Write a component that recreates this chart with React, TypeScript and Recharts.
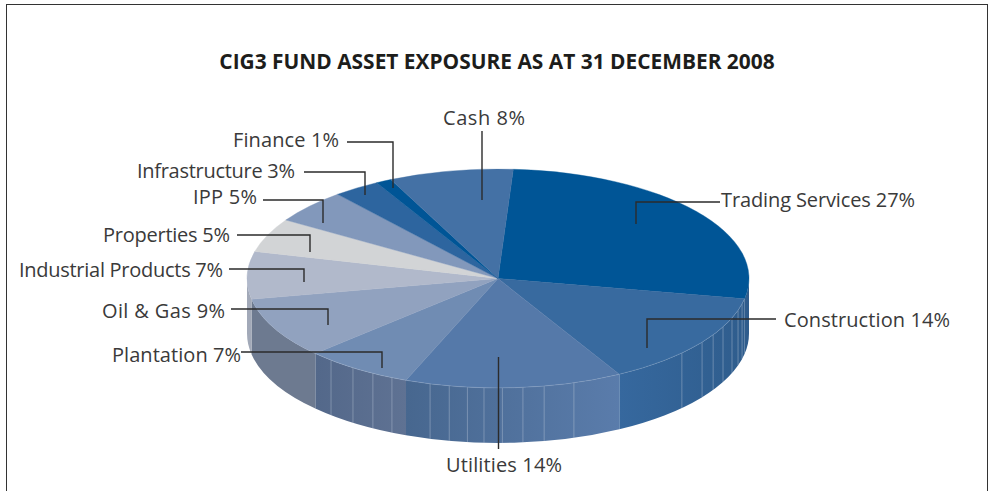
import { PieChart, Pie } from 'recharts';

const sliceNames = ['Trading Services', 'Construction', 'Utilities', 'Plantation', 'Oil & Gas', 'Industrial Products', 'Properties', 'IPP', 'Infrastructure', 'Finance', 'Cash'];
const sliceValues = [27, 14, 14, 7, 9, 7, 5, 5, 3, 1, 8];
const sliceColors = ['#005596', '#386a9f', '#5579a9', '#708cb3', '#91a2bf', '#b1b9cb', '#d2d4d6', '#8298bb', '#2d659f', '#005596', '#4471a5'];

// wall shading, left colour then right colour
const wallColors = [
  ['#2f5c8c', '#2f5c8c'],
  ['#36689e', '#2f5d8d'],
  ['#47678f', '#5a7cab'],
  ['#53688a', '#5f7293'],
  ['#6d7a90', '#6d7a90'],
  ['#a2a9b8', '#a2a9b8'],
];

// angles of the thin light facet lines on the side wall
const wallRibs: Record<string, number[]> = {
  Construction: [-13.5, -17, -21.2, -26.3, -31, -35.6, -42.9],
  Utilities: [-72.4, -79.4, -84.3, -89, -93.2, -97, -101.2, -105.7],
  Plantation: [-115, -119.9, -125.3, -131.7],
};

// text start, baseline, text width, leader line points
const labelLayouts = [
  { x: 721, y: 207, w: 194, line: '720,202 636,202 636,224' },
  { x: 784, y: 327, w: 166, line: '776,319 647,319 647,348' },
  { x: 446, y: 472, w: 116, line: '498.5,357 498.5,449' },
  { x: 112, y: 362, w: 129, line: '241,352 382,352 382,368' },
  { x: 102, y: 318, w: 123, line: '231,309 328,309 328,325' },
  { x: 19, y: 277, w: 204, line: '229,269 304,269 304,282' },
  { x: 103, y: 242, w: 127, line: '237,235 310,235 310,252' },
  { x: 193, y: 204, w: 64, line: '263,200 323,200 323,223' },
  { x: 137, y: 178, w: 158, line: '304,172 365,172 365,195' },
  { x: 233, y: 147, w: 106, line: '347,142 393,142 393,188' },
  { x: 443, y: 125, w: 82, line: '482,131 482,200' },
];

const pieData = sliceNames.map((name, i) => ({ name, value: sliceValues[i], fill: sliceColors[i] }));

const RX = 251;
const SQUASH = 0.436;
const DEPTH = 55;
const FONT = '"Open Sans", sans-serif';

const rad = (a: number) => (a * Math.PI) / 180;

const Slice3D = (props: any) => {
  const { cx, cy, startAngle, endAngle, fill, outerRadius } = props;
  const name = props.payload?.name ?? props.name;
  const i = sliceNames.indexOf(name);
  const rx = outerRadius;
  const ry = outerRadius * SQUASH;
  const px = (a: number) => cx + rx * Math.cos(rad(a));
  const py = (a: number) => cy - ry * Math.sin(rad(a));
  const large = startAngle - endAngle > 180 ? 1 : 0;
  const top = `M${cx},${cy} L${px(startAngle)},${py(startAngle)} A${rx},${ry} 0 ${large} 1 ${px(endAngle)},${py(endAngle)} Z`;

  const a = Math.min(startAngle, 0);
  const b = Math.max(endAngle, -180);
  const hasWall = a > b;
  const wall = `M${px(a)},${py(a)} A${rx},${ry} 0 0 1 ${px(b)},${py(b)} L${px(b)},${py(b) + DEPTH} A${rx},${ry} 0 0 0 ${px(a)},${py(a) + DEPTH} Z`;
  const rim = `M${px(a)},${py(a)} A${rx},${ry} 0 0 1 ${px(b)},${py(b)}`;
  const colors = wallColors[i];
  const ribs = wallRibs[name] || [];

  return (
    <g>
      {hasWall && colors && (
        <g>
          <defs>
            <linearGradient id={`wall-${i}`} x1="0" x2="1" y1="0" y2="0">
              <stop offset="0" stopColor={colors[0]} />
              <stop offset="1" stopColor={colors[1]} />
            </linearGradient>
          </defs>
          <path d={wall} fill={`url(#wall-${i})`} />
          {ribs.map((r) => (
            <line key={r} x1={px(r)} x2={px(r)} y1={py(r)} y2={py(r) + DEPTH} stroke="#c4cfe0" strokeWidth={0.7} strokeOpacity={0.55} />
          ))}
        </g>
      )}
      <path d={top} fill={fill} stroke={fill} strokeWidth={0.4} />
      {hasWall && ribs.length > 0 && <path d={rim} fill="none" stroke="#c9d4e4" strokeWidth={0.6} strokeOpacity={0.35} />}
    </g>
  );
};

const renderLeader = (props: any) => {
  const i = props.index;
  const layout = labelLayouts[i];
  return (
    <g key={sliceNames[i]}>
      <polyline points={layout.line} fill="none" stroke="#2b2b2b" strokeWidth={1.4} />
      <text x={layout.x} y={layout.y} fontFamily={FONT} fontSize={20} fill="#3a3a3a" textLength={layout.w} lengthAdjust="spacing">
        {`${sliceNames[i]} ${sliceValues[i]}%`}
      </text>
    </g>
  );
};

export default function App() {
  return (
    <div style={{ position: 'absolute', left: 0, top: 0, width: 991, height: 491, background: '#fff' }}>
      <div
        style={{
          position: 'absolute',
          left: 6,
          top: 4,
          width: 980,
          height: 487,
          borderTop: '1.5px solid #333',
          borderLeft: '1.5px solid #333',
          borderRight: '1.5px solid #333',
        }}
      />
      <div style={{ position: 'absolute', left: 0, top: 0 }}>
        <PieChart width={991} height={491} margin={{ top: 0, right: 0, bottom: 0, left: 0 }}>
          <text x={497} y={69} textAnchor="middle" fontFamily={FONT} fontSize={20.9} fontWeight={700} fill="#1d1d1b">
            CIG3 FUND ASSET EXPOSURE AS AT 31 DECEMBER 2008
          </text>
          <Pie
            data={pieData}
            dataKey="value"
            nameKey="name"
            cx={498}
            cy={278.5}
            outerRadius={RX}
            startAngle={86.5}
            endAngle={-273.5}
            stroke="none"
            shape={Slice3D}
            label={renderLeader}
            labelLine={false}
            isAnimationActive={false}
          />
        </PieChart>
      </div>
    </div>
  );
}
